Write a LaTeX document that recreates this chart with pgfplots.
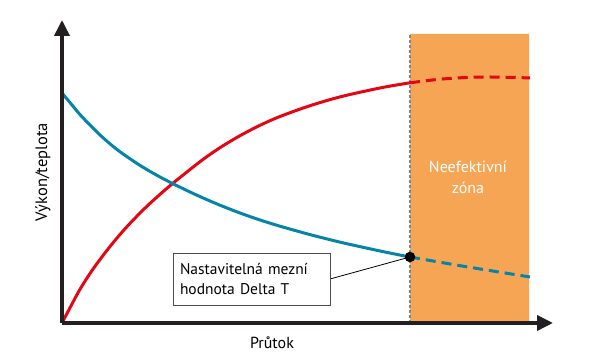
\documentclass[border=0pt]{standalone}
\usepackage{pgfplots}
\pgfplotsset{compat=1.18}
\usepackage{fontspec}
\setmainfont{PT Sans}
\usetikzlibrary{arrows.meta}
\definecolor{cred}{HTML}{E30613}
\definecolor{cblue}{HTML}{0584A8}
\definecolor{corange}{HTML}{F5A553}
\definecolor{cgrey}{HTML}{7A8A94}
\definecolor{caxis}{HTML}{231F20}
\begin{document}
\begin{tikzpicture}
\path[use as bounding box] (-62pt,-32pt) rectangle (538pt,323pt);
\begin{axis}[
  at={(0,0)}, anchor=south west,
  scale only axis, width=491pt, height=303pt,
  xmin=0, xmax=491, ymin=0, ymax=303,
  axis lines=left,
  axis line style={line width=3.6pt, caxis, -{Triangle[length=16pt,width=15pt]}},
  xtick=\empty, ytick=\empty,
  clip=false, axis on top=true,
]
\addplot[fill=corange, draw=none] coordinates {(348,0)(467,0)(467,289)(348,289)} \closedcycle;
\addplot[cgrey, line width=1.2pt, dash pattern=on 3pt off 2pt] coordinates {(348,0)(348,289)};
% red solid
\addplot[cred, line width=3pt, smooth] coordinates {
(0,0)(8,15.2)(18,33.7)(31,53.9)(48,76.5)(65,96.4)(85,116.8)(108,137.3)(138,161.3)(158,175.3)(178,187.3)(198,197.7)(218,206.5)(248,217.3)(280,226.6)(320,235.4)(348,240.2)};
\addplot[cred, line width=3pt, smooth, dash pattern=on 10pt off 6pt] coordinates {
(348,240.2)(375,243.5)(400,245.3)(425,246)(450,245.6)(468,245)};
% blue solid
\addplot[cblue, line width=3pt, smooth] coordinates {
(0,230)(9,219.2)(18,208.4)(28,198)(38,188)(48,179.2)(58,171.2)(78,157.6)(98,146)(118,135.8)(138,126.4)(158,117.8)(178,110)(198,103)(218,96.8)(248,88.4)(280,80.4)(320,71.6)(348,66)};
\addplot[cblue, line width=3pt, smooth, dash pattern=on 10pt off 6pt] coordinates {
(348,66)(400,57)(468,46)};
\draw[black, line width=0.8pt] (axis cs:268,44) -- (axis cs:348,66);
\addplot[only marks, mark=*, mark size=5pt, black] coordinates {(348,66)};
\node[draw=black!70, line width=0.8pt, fill=white, align=left, text width=143pt, inner xsep=7pt, minimum height=52pt, font=\fontsize{15.5}{20}\selectfont] at (axis cs:189.5,44) {Nastavitelná mezní\\hodnota Delta T};
\node[white, align=center, font=\fontsize{16}{21}\selectfont] at (axis cs:406,146) {Neefektivní\\zóna};
\node[font=\fontsize{16}{18}\selectfont] at (axis cs:210,-20) {Průtok};
\node[rotate=90, font=\fontsize{16.5}{18}\selectfont] at (axis cs:-19,151) {Výkon/teplota};
\end{axis}
\end{tikzpicture}
\end{document}
